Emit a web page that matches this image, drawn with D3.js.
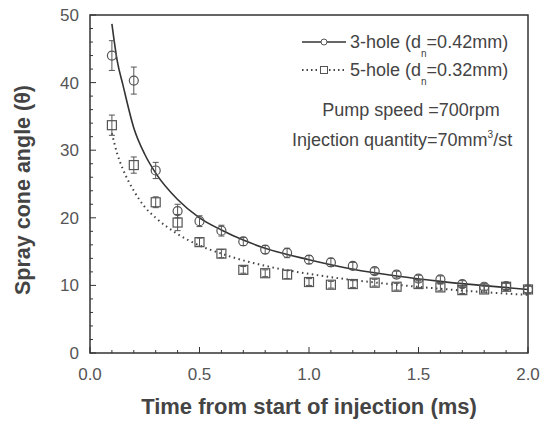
<!DOCTYPE html>
<html><head><meta charset="utf-8">
<script src="https://cdn.jsdelivr.net/npm/d3@7"></script>
<style>body{margin:0;background:#fff;} text{font-family:"Liberation Sans",Arial,sans-serif;}</style>
</head><body>
<svg id="c" width="547" height="422"></svg>
<script>
const times = [0.1,0.2,0.3,0.4,0.5,0.6,0.7,0.8,0.9,1.0,1.1,1.2,1.3,1.4,1.5,1.6,1.7,1.8,1.9,2.0];
const hole3 = [44.0,40.3,27.0,21.0,19.5,18.1,16.5,15.3,14.8,13.8,13.4,12.9,12.1,11.6,11.0,10.9,10.2,9.8,9.9,9.4];
const hole3Err = [2.2,2.0,1.2,1.0,0.8,0.8,0.6,0.6,0.7,0.6,0.6,0.5,0.5,0.5,0.5,0.5,0.5,0.5,0.5,0.5];
const hole5 = [33.7,27.8,22.3,19.3,16.4,14.7,12.3,11.8,11.6,10.5,10.1,10.2,10.4,9.8,10.2,9.7,9.3,9.4,9.8,9.4];
const hole5Err = [1.5,1.2,0.8,1.2,0.6,0.6,0.5,0.5,0.6,0.5,0.5,0.5,0.5,0.5,0.5,0.5,0.5,0.5,0.5,0.5];
const fitT = [0.1,0.125,0.15,0.2,0.25,0.3,0.4,0.5,0.6,0.7,0.8,1.0,1.2,1.4,1.6,1.8,2.0];
const fit3 = [48.7,43.1,39.7,33.3,29.4,26.6,22.7,20.0,18.2,16.7,15.5,13.8,12.4,11.4,10.6,9.96,9.4];
const fit5 = [32.5,29.4,27.2,24.0,21.6,20.0,17.6,15.9,14.7,13.7,12.9,11.7,10.8,10.1,9.5,9.0,8.6];
const xTicks = [0.0,0.5,1.0,1.5,2.0];
const yTicks = [0,10,20,30,40,50];

const svg = d3.select("#c");
const L=90,R=528,T=15,B=353;
const x = d3.scaleLinear().domain([0,2]).range([L,R]);
const y = d3.scaleLinear().domain([0,50]).range([B,T]);
const ax="#333", mk="#555", tx="#444";

// frame
svg.append("rect").attr("x",L).attr("y",T).attr("width",R-L).attr("height",B-T)
  .attr("fill","none").attr("stroke",ax).attr("stroke-width",1.5);

// ticks inward
const xMinor = d3.range(0,21).map(i=>i/10);
svg.append("g").selectAll("line").data(xMinor).join("line")
  .attr("x1",d=>x(d)).attr("x2",d=>x(d)).attr("y1",B).attr("y2",d=>Math.abs(d*2-Math.round(d*2))<1e-6?B-6:B-3)
  .attr("stroke",ax).attr("stroke-width",1);
const yMinor = d3.range(0,26).map(i=>i*2);
svg.append("g").selectAll("line").data(yMinor).join("line")
  .attr("y1",d=>y(d)).attr("y2",d=>y(d)).attr("x1",L).attr("x2",d=>d%10===0?L+6:L+3)
  .attr("stroke",ax).attr("stroke-width",1);

// tick labels
svg.append("g").selectAll("text").data(xTicks).join("text")
  .attr("x",d=>x(d)).attr("y",B+27).attr("text-anchor","middle")
  .attr("font-size",17).attr("fill","#555").text(d=>d3.format(".1f")(d));
svg.append("g").selectAll("text").data(yTicks).join("text")
  .attr("x",L-11).attr("y",d=>y(d)+6).attr("text-anchor","end")
  .attr("font-size",17).attr("fill","#555").text(d=>d);

// axis titles
svg.append("text").attr("x",309).attr("y",414).attr("text-anchor","middle")
  .attr("font-size",22).attr("font-weight","bold").attr("fill",tx).text("Time from start of injection (ms)");
svg.append("text").attr("transform",`translate(30,${(T+B)/2+6}) rotate(-90)`).attr("text-anchor","middle")
  .attr("font-size",21.5).attr("font-weight","bold").attr("fill",tx).text("Spray cone angle (\u03B8)");

// fitted curves
const line = d3.line().x((d,i)=>x(fitT[i])).y(d=>y(d)).curve(d3.curveMonotoneX);
svg.append("path").attr("d",line(fit3)).attr("fill","none").attr("stroke","#333").attr("stroke-width",1.6);
svg.append("path").attr("d",line(fit5)).attr("fill","none").attr("stroke","#444").attr("stroke-width",2)
  .attr("stroke-dasharray","1.5,3.5");

// error bars + markers
function errBars(vals, errs){
  const g = svg.append("g").attr("stroke",mk).attr("stroke-width",1);
  times.forEach((t,i)=>{
    const cx=x(t), y1=y(vals[i]+errs[i]), y2=y(vals[i]-errs[i]);
    g.append("line").attr("x1",cx).attr("x2",cx).attr("y1",y1).attr("y2",y2);
    g.append("line").attr("x1",cx-3).attr("x2",cx+3).attr("y1",y1).attr("y2",y1);
    g.append("line").attr("x1",cx-3).attr("x2",cx+3).attr("y1",y2).attr("y2",y2);
  });
}
errBars(hole3,hole3Err);
errBars(hole5,hole5Err);
svg.append("g").selectAll("circle").data(hole3).join("circle")
  .attr("cx",(d,i)=>x(times[i])).attr("cy",d=>y(d)).attr("r",4.5)
  .attr("fill","none").attr("stroke",mk).attr("stroke-width",1.2);
svg.append("g").selectAll("rect").data(hole5).join("rect")
  .attr("x",(d,i)=>x(times[i])-4.5).attr("y",d=>y(d)-4.5).attr("width",9).attr("height",9)
  .attr("fill","none").attr("stroke",mk).attr("stroke-width",1.2);

// legend
const lg = svg.append("g");
lg.append("line").attr("x1",302).attr("x2",346).attr("y1",42).attr("y2",42).attr("stroke","#333").attr("stroke-width",1.4);
lg.append("circle").attr("cx",324).attr("cy",42).attr("r",3).attr("fill","#fff").attr("stroke",mk);
lg.append("line").attr("x1",302).attr("x2",346).attr("y1",70).attr("y2",70).attr("stroke","#444").attr("stroke-width",1.8).attr("stroke-dasharray","1.5,3");
lg.append("rect").attr("x",320.5).attr("y",66.5).attr("width",7).attr("height",7).attr("fill","#fff").attr("stroke",mk);
function legText(yy, pre, post){
  const t = lg.append("text").attr("x",350).attr("y",yy+6).attr("font-size",18).attr("fill",tx);
  t.append("tspan").text(pre);
  t.append("tspan").attr("font-size",10).attr("dy",9).text("n");
  t.append("tspan").attr("dy",-9).text(post);
}
legText(42,"3-hole (d","=0.42mm)");
legText(70,"5-hole (d","=0.32mm)");
lg.append("text").attr("x",411).attr("y",116).attr("text-anchor","middle").attr("font-size",18).attr("fill",tx).text("Pump speed =700rpm");
const iq = lg.append("text").attr("x",292).attr("y",146).attr("font-size",18).attr("fill",tx);
iq.append("tspan").text("Injection quantity=70mm");
iq.append("tspan").attr("font-size",10).attr("dy",-8).text("3");
iq.append("tspan").attr("dy",8).text("/st");
</script>
</body></html>
